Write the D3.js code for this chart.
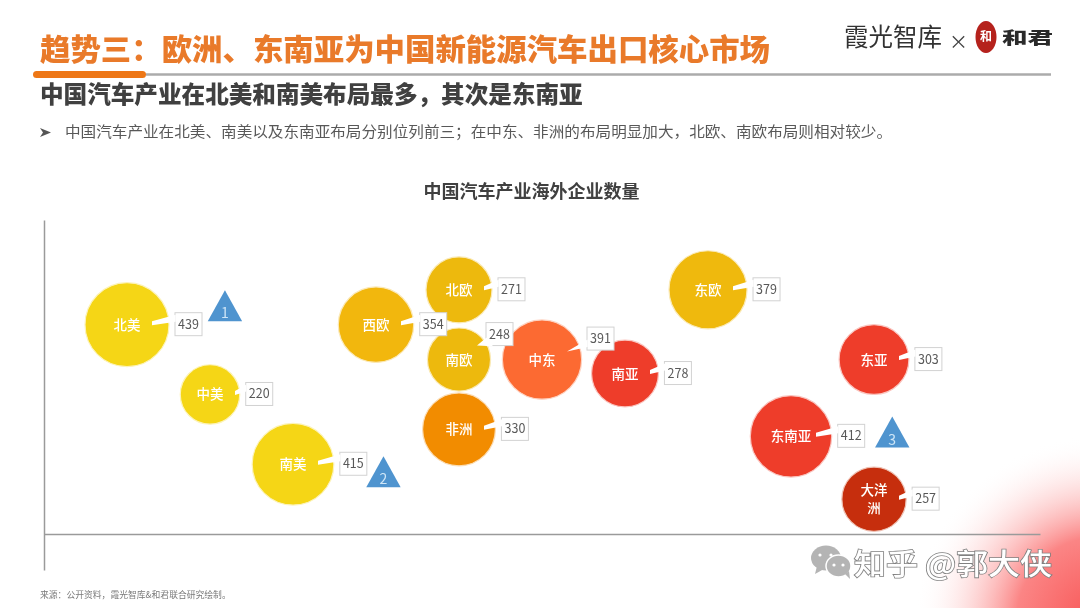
<!DOCTYPE html>
<html lang="zh-CN">
<head>
<meta charset="utf-8">
<script src="https://cdnjs.cloudflare.com/ajax/libs/d3/7.8.5/d3.min.js"></script>
<style>
html,body{margin:0;padding:0;background:#fff;overflow:hidden}
svg{display:block}
text{font-family:"Noto Sans CJK SC","Noto Sans",sans-serif}
</style>
</head>
<body>
<svg id="c" width="1080" height="608"></svg>
<script>
// Data
const regions = ["北美","中美","南美","西欧","北欧","南欧","非洲","中东","南亚","东欧","东南亚","东亚","大洋洲"];
const companyCounts = [439,220,415,354,271,248,330,391,278,379,412,303,257];
const columnPos = [1,2,3,4,5,5,5,6,7,8,9,10,10];
const rowPos = [6,4,2,6,7,5,3,5,4.6,7,2.8,5,1];
const rankNumbers = [1,2,3];
const rankX = [2.18,4.09,10.22];
const rankY = [6.10,1.34,2.48];
const mainTitle = "趋势三\uFF1A欧洲、东南亚为中国新能源汽车出口核心市场";
const subTitle = "中国汽车产业在北美和南美布局最多\uFF0C其次是东南亚";
const bulletText = "中国汽车产业在北美、南美以及东南亚布局分别位列前三\uFF1B在中东、非洲的布局明显加大\uFF0C北欧、南欧布局则相对较少。";
const chartTitle = "中国汽车产业海外企业数量";
const sourceText = "来源\uFF1A公开资料\uFF0C霞光智库&和君联合研究绘制。";

// Styling, separate from the data
const regionColor = {北美:"#F5D614",中美:"#F5D614",南美:"#F5D614",西欧:"#F2B70F",北欧:"#EDB910",南欧:"#EDB910",东欧:"#EFB90E",
  非洲:"#F28C05",中东:"#FC6B33",南亚:"#EE3D2B",东南亚:"#EE3D2B",东亚:"#EE3D2B",大洋洲:"#C62F08"};
const calloutShift = {南欧:{bx:27,by:-25.5,tx:18,ty:-14},中东:{bx:45,by:-21,tx:25,ty:-8}};

const svg = d3.select("#c");
const defs = svg.append("defs");
const grad = defs.append("radialGradient").attr("id","corner").attr("gradientUnits","userSpaceOnUse")
  .attr("cx",1100).attr("cy",620).attr("r",185);
grad.append("stop").attr("offset","0%").attr("stop-color","#F85555");
grad.append("stop").attr("offset","45%").attr("stop-color","#FB8585");
grad.append("stop").attr("offset","100%").attr("stop-color","#FFFFFF").attr("stop-opacity",0);
const blur = defs.append("filter").attr("id","soft").attr("x","-5%").attr("y","-5%").attr("width","110%").attr("height","110%");
blur.append("feGaussianBlur").attr("stdDeviation",0.4);

svg.append("rect").attr("width",1080).attr("height",608).attr("fill","#fff");
svg.append("rect").attr("x",880).attr("y",420).attr("width",200).attr("height",188).attr("fill","url(#corner)");

const root = svg.append("g").attr("filter","url(#soft)");

// Header
root.append("text").attr("x",40).attr("y",60).attr("font-size",30).attr("font-weight",900)
  .attr("fill","#E97A2B").attr("textLength",730).attr("lengthAdjust","spacingAndGlyphs").text(mainTitle);
root.append("line").attr("x1",146).attr("x2",1051).attr("y1",74.5).attr("y2",74.5).attr("stroke","#ABABAB").attr("stroke-width",2.5);
root.append("rect").attr("x",33).attr("y",71).attr("width",113).attr("height",7).attr("rx",3.5).attr("fill","#EE7718");
root.append("text").attr("x",40).attr("y",103).attr("font-size",23.6).attr("font-weight",900)
  .attr("fill","#404040").text(subTitle);
root.append("path").attr("d","M40 128 L51 132.5 L40 137 L43 132.5 Z").attr("fill","#555");
root.append("text").attr("x",65).attr("y",137).attr("font-size",15).attr("fill","#595959")
  .attr("textLength",827).attr("lengthAdjust","spacingAndGlyphs").text(bulletText);

// Logos
root.append("text").attr("x",844).attr("y",46).attr("font-size",24.5).attr("fill","#333").text("霞光智库");
root.append("text").attr("x",949).attr("y",49).attr("font-size",19).attr("fill","#444").text("×");
root.append("ellipse").attr("cx",986).attr("cy",37).attr("rx",10.5).attr("ry",16).attr("fill","#B5201E");
root.append("text").attr("x",986).attr("y",41).attr("text-anchor","middle").attr("font-size",12).attr("font-weight",700).attr("fill","#fff").text("和");
root.append("text").attr("transform","translate(1002,44) scale(1.55,1)").attr("font-size",16.5).attr("font-weight",900).attr("fill","#2b2b2b").text("和君");

root.append("text").attr("x",531.5).attr("y",198).attr("text-anchor","middle").attr("font-size",18).attr("font-weight",700)
  .attr("fill","#404040").text(chartTitle);

// Scales and axes
const x = d3.scaleLinear().domain([0,12]).range([44,1040]);
const y = d3.scaleLinear().domain([-1.03,9]).range([570,220]);
const r = d3.scaleSqrt().domain([0,439]).range([0,42]);

const axisStyle = g => g.call(s=>s.select(".domain").attr("stroke","#9A9A9A").attr("stroke-width",1.5));
root.append("g").attr("transform",`translate(0,${y(0)})`)
  .call(d3.axisBottom(x).tickValues([]).tickSize(0)).call(axisStyle);
root.append("g").attr("transform",`translate(${x(0)},0)`)
  .call(d3.axisLeft(y).tickValues([]).tickSize(0)).call(axisStyle);

const data = regions.map((name,i)=>({name,value:companyCounts[i],col:columnPos[i],row:rowPos[i]}));

// Bubbles
const place = d=>`translate(${x(d.col)},${y(d.row)})`;
const nodes = root.append("g").selectAll("g").data(data).join("g").attr("transform",place);
nodes.append("circle").attr("r",d=>r(d.value)).attr("fill",d=>regionColor[d.name])
  .attr("stroke",d=>d3.interpolateRgb(regionColor[d.name],"#fff")(0.7)).attr("stroke-width",1.2);
nodes.each(function(d){
  const lines = d.name==="大洋洲" ? ["大洋","洲"] : [d.name];
  const t = d3.select(this).append("text").attr("text-anchor","middle").attr("fill","#fff")
    .attr("font-size",13.5).attr("font-weight",500);
  lines.forEach((l,i)=>t.append("tspan").attr("x",0).attr("y",(i-(lines.length-1)/2)*18+5).text(l));
});

// Value callouts, in a layer above every bubble
const bw=27, bh=23;
const callouts = root.append("g").selectAll("g").data(data).join("g").attr("transform",place);
callouts.each(function(d){
  const s = calloutShift[d.name];
  const left = s ? s.bx : r(d.value)+6;
  const cy = s ? s.by : -0.5;
  const tipX = s ? s.tx : 25, tipY = s ? s.ty : -2.5;
  const g = d3.select(this);
  g.append("rect").attr("x",left).attr("y",cy-bh/2).attr("width",bw).attr("height",bh)
    .attr("fill","#fff").attr("stroke","#D2D2D2").attr("stroke-width",1);
  const wedge = s
    ? (d.name==="南欧"
        ? `M${tipX} ${tipY} L${left+0.5} ${cy+bh/2-8} L${left+7} ${cy+bh/2+0.6} Z`
        : `M${tipX} ${tipY} L${left+0.6} ${cy+1} L${left+0.6} ${cy+bh/2-3} Z`)
    : `M${tipX} ${tipY-1} L${left+0.6} ${cy-bh/2+2} L${left+0.6} ${cy-bh/2+9} L${tipX} ${tipY+3} Z`;
  g.append("path").attr("d",wedge).attr("fill","#fff");
  g.append("text").attr("x",left+bw/2).attr("y",cy+4.5).attr("text-anchor","middle")
    .attr("font-family","'Open Sans',sans-serif").attr("font-size",12.5).attr("fill","#595959").text(d.value);
});

// Rank triangles
const tri = root.append("g").selectAll("g").data(rankNumbers).join("g")
  .attr("transform",(d,i)=>`translate(${x(rankX[i])},${y(rankY[i])})`);
tri.append("path").attr("d","M0 -31 L17.2 0 L-17.2 0 Z").attr("fill","#4F94CF");
tri.append("text").attr("y",-3).attr("text-anchor","middle").attr("font-family","'Open Sans',sans-serif")
  .attr("font-size",14).attr("fill","#CFE6F7").text(d=>d);

// Footer
root.append("text").attr("x",40).attr("y",598).attr("font-size",8.8).attr("fill","#7a7a7a").text(sourceText);

// Watermark
const wm = svg.append("g");
wm.append("ellipse").attr("cx",826).attr("cy",558).attr("rx",15).attr("ry",12.5).attr("fill","#B4B4B4");
wm.append("path").attr("d","M817 566 L815 574 L824 569 Z").attr("fill","#B4B4B4");
wm.append("ellipse").attr("cx",838.5).attr("cy",566).attr("rx",12.5).attr("ry",11).attr("fill","#B4B4B4").attr("stroke","#fff").attr("stroke-width",1.5);
wm.append("path").attr("d","M845 574 L850 579 L849 571 Z").attr("fill","#B4B4B4");
[[820,555],[831,555],[834,565],[843,565]].forEach(p=>wm.append("circle").attr("cx",p[0]).attr("cy",p[1]).attr("r",1.6).attr("fill","#fff"));
wm.append("text").attr("x",854).attr("y",575).attr("font-size",29).attr("font-weight",500).attr("fill","#fff")
  .attr("stroke","#808080").attr("stroke-width",1.6).attr("paint-order","stroke")
  .attr("textLength",198).attr("lengthAdjust","spacingAndGlyphs").text("知乎 @郭大侠");
</script>
</body>
</html>
